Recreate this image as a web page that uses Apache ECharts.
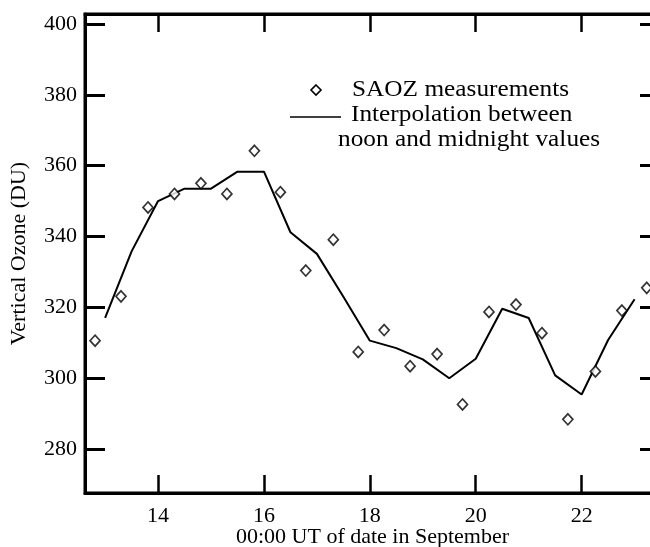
<!DOCTYPE html>
<html>
<head>
<meta charset="utf-8">
<script src="https://cdn.jsdelivr.net/npm/echarts@6/dist/echarts.min.js"></script>
<style>html,body{margin:0;padding:0;background:#fff;}#c{width:650px;height:547px;}</style>
</head>
<body>
<div id="c"></div>
<script>
// SAOZ measurements (day of September, DU)
const saozDays = [12.81,13.30,13.81,14.31,14.81,15.30,15.82,16.31,16.79,17.31,17.78,18.27,18.76,19.27,19.75,20.25,20.76,21.25,21.74,22.26,22.76,23.23];
const saozValues = [310.6,323.1,348.2,352.0,355.0,352.0,364.2,352.5,330.4,339.1,307.4,313.6,303.4,306.8,292.6,318.7,320.8,312.7,288.4,301.9,319.1,325.5];
// Interpolation between noon and midnight values
const interpDays = [13.0,13.5,14.0,14.5,15.0,15.5,16.0,16.5,17.0,17.5,18.0,18.5,19.0,19.5,20.0,20.5,21.0,21.5,22.0,22.5,23.0];
const interpValues = [317.0,335.8,350.0,353.5,353.5,358.3,358.3,341.2,335.1,323.0,310.6,308.5,305.3,300.0,305.5,319.6,317.0,300.8,295.4,310.8,322.3];
// tick labels
const xTicks = [14,16,18,20,22];
const yTicks = [280,300,320,340,360,380,400];

const FONT = '"Liberation Serif", "Times New Roman", serif';
const chart = echarts.init(document.getElementById('c'), null, {renderer:'canvas'});

const axisLineStyle = {color:'#000', width:3};
const legendText = (txt, x, y) => ({
  type:'text', x:x, y:y, scaleX:1.1, scaleY:1,
  style:{text:txt, fill:'#000', font:'23px ' + FONT, x:0, y:0, textAlign:'left', textVerticalAlign:'middle'}
});
const option = {
  animation:false,
  backgroundColor:'#fff',
  grid:{left:85, top:14, right:-10, bottom:54, containLabel:false, outerBoundsMode:'none',
        show:true, borderColor:'#000', borderWidth:3, backgroundColor:'transparent'},
  xAxis:[{
    type:'value', min:12.62, max:23.48, position:'bottom',
    splitLine:{show:false},
    axisLine:{show:true, onZero:false, lineStyle:axisLineStyle},
    axisTick:{show:true, inside:true, length:18, lineStyle:{color:'#000', width:2.5}, customValues:xTicks},
    axisLabel:{color:'#000', fontFamily:FONT, fontSize:22, margin:12, customValues:xTicks},
    name:'00:00 UT of date in September', nameLocation:'middle', nameGap:33, nameMoveOverlap:false,
    nameTextStyle:{color:'#000', fontFamily:FONT, fontSize:22}
  },{
    type:'value', min:12.62, max:23.48, position:'top',
    splitLine:{show:false},
    axisLine:{show:true, onZero:false, lineStyle:axisLineStyle},
    axisTick:{show:true, inside:true, length:18, lineStyle:{color:'#000', width:2.5}, customValues:xTicks},
    axisLabel:{show:false}
  }],
  yAxis:[{
    type:'value', min:267.6, max:402.8, position:'left',
    splitLine:{show:false},
    axisLine:{show:true, onZero:false, lineStyle:axisLineStyle},
    axisTick:{show:true, inside:true, length:20, lineStyle:{color:'#000', width:3}, customValues:yTicks},
    axisLabel:{color:'#000', fontFamily:FONT, fontSize:22, margin:8, customValues:yTicks},
    name:'Vertical Ozone (DU)', nameLocation:'middle', nameGap:55, nameRotate:90, nameMoveOverlap:false,
    nameTextStyle:{color:'#000', fontFamily:FONT, fontSize:22}
  },{
    type:'value', min:267.6, max:402.8, position:'right',
    splitLine:{show:false},
    axisLine:{show:true, onZero:false, lineStyle:axisLineStyle},
    axisTick:{show:true, inside:true, length:20, lineStyle:{color:'#000', width:3}, customValues:yTicks},
    axisLabel:{show:false}
  }],
  graphic:[
    {type:'polygon', shape:{points:[[316,85],[321,90],[316,95],[311,90]]}, style:{fill:'#fff', stroke:'#000', lineWidth:1.6}},
    legendText('SAOZ measurements', 352, 90),
    {type:'line', shape:{x1:290, y1:117, x2:341, y2:117}, style:{stroke:'#000', lineWidth:1.5}},
    legendText('Interpolation between', 351, 115),
    legendText('noon and midnight values', 338, 140)
  ],
  series:[{
    type:'line', xAxisIndex:0, yAxisIndex:0,
    data:interpDays.map((d,i)=>[d, interpValues[i]]),
    showSymbol:false, symbol:'none',
    lineStyle:{color:'#000', width:2},
    z:2
  },{
    type:'scatter', xAxisIndex:0, yAxisIndex:0,
    data:saozDays.map((d,i)=>[d, saozValues[i]]),
    symbol:'diamond', symbolSize:[10,11],
    itemStyle:{color:'#fff', borderColor:'#000', borderWidth:1.7},
    clip:false,
    z:3
  }]
};
chart.setOption(option);
</script>
</body>
</html>
